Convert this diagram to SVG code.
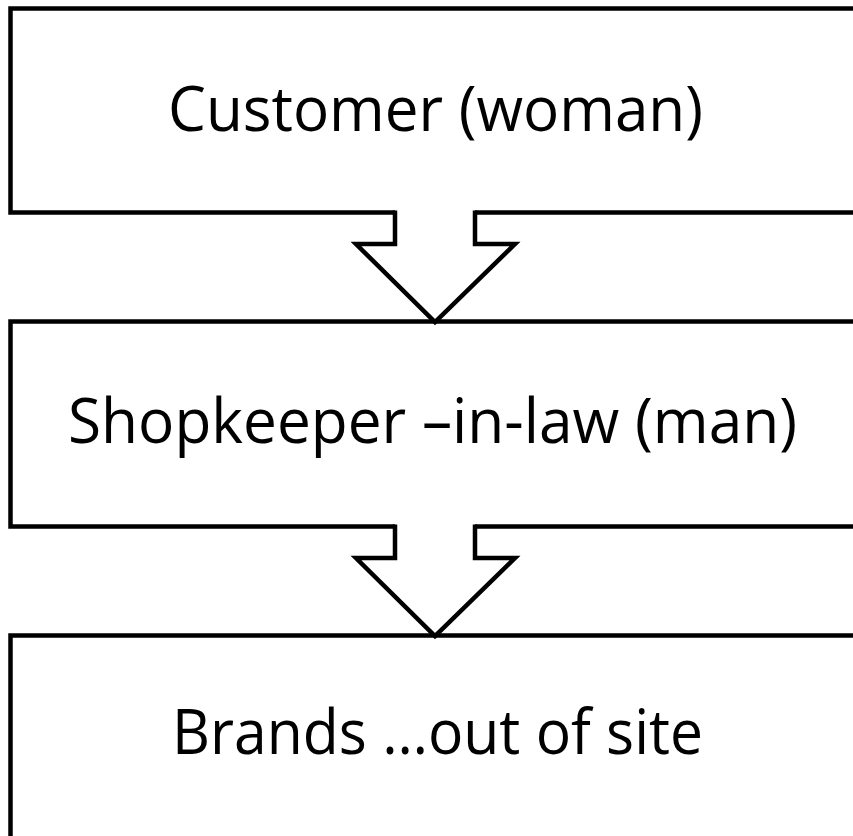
<svg xmlns="http://www.w3.org/2000/svg" width="853" height="836" viewBox="0 0 853 836">
<style>
.box{fill:#fff;stroke:#000;stroke-width:4.5}
.arr{fill:#fff;stroke:#000;stroke-width:4.5;stroke-linejoin:miter}
.lbl{font-family:"Open Sans","Liberation Sans",sans-serif;font-size:63px;fill:#000;text-anchor:middle}
</style>
<rect width="853" height="836" fill="#fff"/>
<g id="node1">
<rect class="box" x="10.5" y="8.5" width="870" height="204"/>
<text class="lbl" x="435.5" y="131" textLength="535" lengthAdjust="spacingAndGlyphs">Customer (woman)</text>
</g>
<g id="node2">
<rect class="box" x="10.5" y="321.5" width="870" height="205"/>
<text class="lbl" x="432.5" y="443" textLength="729" lengthAdjust="spacingAndGlyphs">Shopkeeper –in-law (man)</text>
</g>
<g id="node3">
<rect class="box" x="10.5" y="635.5" width="870" height="240"/>
<text class="lbl" x="437.5" y="754" textLength="531" lengthAdjust="spacingAndGlyphs">Brands …out of site</text>
</g>
<g id="connectors">
<polygon points="395,208 395,244 356,244 435,322 515,244 475,244 475,208" fill="#fff" stroke="none"/>
<polyline class="arr" points="395,210.5 395,244 356,244 435,322 515,244 475,244 475,210.5"/>
<polygon points="395,522 395,558 356,558 435,636 515,558 475,558 475,522" fill="#fff" stroke="none"/>
<polyline class="arr" points="395,524.5 395,558 356,558 435,636 515,558 475,558 475,524.5"/>
</g>
</svg>
